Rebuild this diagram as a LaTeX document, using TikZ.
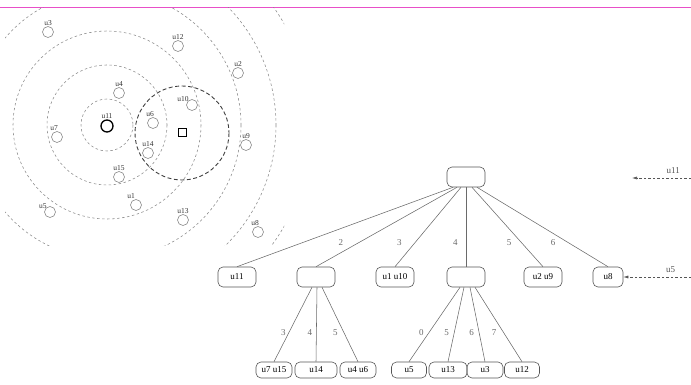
\documentclass[tikz,border=0pt]{standalone}
\usepackage{fontspec}
\setmainfont{Liberation Serif}
\usepackage{tikz}
\usetikzlibrary{arrows.meta,positioning}
\definecolor{RingGray}{HTML}{8A8A8A}
\definecolor{EdgeGray}{HTML}{6A6A6A}
\definecolor{BoxGray}{HTML}{555555}
\definecolor{PageRule}{HTML}{E84FC8}

\begin{document}
\begin{tikzpicture}[x=1pt,y=-1pt,
    user/.style={circle,draw=RingGray,line width=0.6pt,minimum size=11pt,inner sep=0pt},
    ulbl/.style={font=\fontsize{7.5}{8}\selectfont,inner sep=0.5pt,text=black!80},
    ring/.style={RingGray,line width=0.55pt,dash pattern=on 2.5pt off 2.5pt},
    tnode/.style={draw=BoxGray,line width=0.6pt,rounded corners=5pt,minimum width=38pt,
                  minimum height=20pt,inner sep=1pt,font=\fontsize{9}{10}\selectfont},
    leaf/.style={tnode,minimum width=36pt,minimum height=16pt},
    elbl/.style={font=\fontsize{9}{10}\selectfont,inner sep=1pt},
    tedge/.style={EdgeGray,line width=0.55pt},
    feed/.style={BoxGray,line width=0.55pt,dash pattern=on 2.5pt off 2pt,-{Latex[length=5pt,width=3pt]}}]
  \useasboundingbox (0,0) rectangle (691,385);
  \draw[PageRule,line width=0.8pt] (0,7) -- (691,7);
  \begin{scope}
    \clip (5,8) rectangle (284,245);
    \draw[ring] (107,125) circle (26);
    \draw[ring] (107,125) circle (60);
    \draw[ring] (107,125) circle (94);
    \draw[ring] (107,125) circle (134);
    \draw[ring] (107,125) circle (169);
    \draw[ring] (107,125) circle (204);
  \end{scope}
  \draw[black!75,line width=0.9pt,dash pattern=on 4pt off 2.5pt] (182,133) circle (47);
  \node[draw=black,line width=1pt,minimum size=8pt,inner sep=0pt] (sq) at (182,133) {};
  \node[user,draw=black,line width=1.3pt,minimum size=12pt,label={[ulbl]above:u11}] (c11) at (107,126) {};
  \node[user,label={[ulbl]above:u3}] (c3) at (48,32) {};
  \node[user,label={[ulbl]above:u12}] (c12) at (178,46) {};
  \node[user,label={[ulbl]above:u2}] (c2) at (238,73) {};
  \node[user,label={[ulbl]above:u4}] (c4) at (119,93) {};
  \node[user,label={[ulbl,label distance=-2pt]above left:u10}] (c10) at (192,105) {};
  \node[user,label={[ulbl,xshift=-3pt]above:u6}] (c6) at (153,123) {};
  \node[user,label={[ulbl,xshift=-3pt]above:u7}] (c7) at (57,137) {};
  \node[user,label={[ulbl]above:u9}] (c9) at (246,145) {};
  \node[user,label={[ulbl]above:u14}] (c14) at (148,153) {};
  \node[user,label={[ulbl]above:u15}] (c15) at (119,177) {};
  \node[user,label={[ulbl,xshift=-5pt]above:u1}] (c1) at (136,205) {};
  \node[user,label={[ulbl,label distance=-2pt]above left:u5}] (c5) at (50,212) {};
  \node[user,label={[ulbl]above:u13}] (c13) at (183,220) {};
  \node[user,label={[ulbl,xshift=-3pt]above:u8}] (c8) at (258,232) {};

  \node[tnode] (root) at (466,177) {};
  \node[tnode] (k1) at (237,277) {u11};
  \node[tnode] (k2) at (316,277) {};
  \node[tnode] (k3) at (395,277) {u1 u10};
  \node[tnode] (k4) at (466,277) {};
  \node[tnode] (k5) at (543,277) {u2 u9};
  \node[tnode,minimum width=30pt] (k6) at (608,277) {u8};
  \node[leaf] (m1) at (274,370) {u7 u15};
  \node[leaf,minimum width=42pt] (m2) at (316,370) {u14};
  \node[leaf] (m3) at (358,370) {u4 u6};
  \node[leaf,minimum width=35pt] (m4) at (409,370) {u5};
  \node[leaf,minimum width=38pt] (m5) at (448,370) {u13};
  \node[leaf] (m6) at (485,370) {u3};
  \node[leaf,minimum width=35pt] (m7) at (522,370) {u12};

  \draw[tedge] ([xshift=-13pt]root.south) -- (k1.north);
  \draw[tedge] ([xshift=-9pt]root.south) -- node[elbl,pos=0.7,left=14pt] {2} (k2.north);
  \draw[tedge] ([xshift=-5pt]root.south) -- node[elbl,pos=0.7,left=12pt] {3} (k3.north);
  \draw[tedge] (root.south) -- node[elbl,pos=0.7,left=7pt] {4} (k4.north);
  \draw[tedge] ([xshift=6pt]root.south) -- node[elbl,pos=0.7,left=9pt] {5} (k5.north);
  \draw[tedge] ([xshift=11pt]root.south) -- node[elbl,pos=0.7,left=12pt] {6} (k6.north);
  \draw[tedge] ([xshift=-4pt]k2.south) -- node[elbl,pos=0.61,left=2pt] {3} (m1.north);
  \draw[tedge] ([xshift=1pt]k2.south) -- node[elbl,pos=0.61,left=3pt] {4} (m2.north);
  \draw[tedge] ([xshift=6pt]k2.south) -- node[elbl,pos=0.61,left=5pt] {5} (m3.north);
  \draw[tedge] ([xshift=-6pt]k4.south) -- node[elbl,pos=0.61,left=4pt] {0} (m4.north);
  \draw[tedge] ([xshift=-2pt]k4.south) -- node[elbl,pos=0.61,left=4pt] {5} (m5.north);
  \draw[tedge] ([xshift=4pt]k4.south) -- node[elbl,pos=0.61,left=4pt] {6} (m6.north);
  \draw[tedge] ([xshift=9pt]k4.south) -- node[elbl,pos=0.61,left=6pt] {7} (m7.north);

  \coordinate (in1) at (691,178);
  \coordinate (tip1) at (632,178);
  \coordinate (in2) at (691,277);
  \draw[feed] (in1) -- node[elbl,above=3pt,pos=0.3] {u11} (tip1);
  \draw[feed] (in2) -- node[elbl,above=3pt,pos=0.3] {u5} (k6.east);
\end{tikzpicture}
\end{document}
